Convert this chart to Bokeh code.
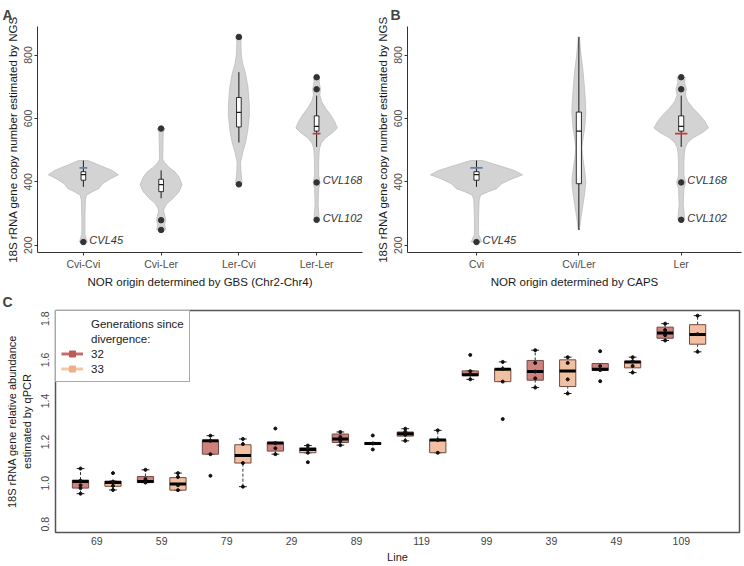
import numpy as np
from bokeh.plotting import figure
from bokeh.layouts import column, row
from bokeh.models import FixedTicker, Legend, LegendItem, Range1d, PrintfTickFormatter
from bokeh.core.properties import value
from bokeh.embed import file_html
from bokeh.resources import INLINE

FONT = "Liberation Sans"

# ---------------- Panels A / B data ----------------
gbs_labels = ["Cvi-Cvi", "Cvi-Ler", "Ler-Cvi", "Ler-Ler"]
caps_labels = ["Cvi", "Cvi/Ler", "Ler"]
ngs_ticks = [200, 400, 600, 800]

# violin density profiles: copy-number level and half width (category units)
cvi_cvi_lvl = [210, 219, 234, 286, 343, 358, 369, 379, 394, 410, 422, 436, 451, 467]
cvi_cvi_wid = [0.05, 0.04, 0.02, 0.02, 0.026, 0.04, 0.116, 0.2, 0.245, 0.35, 0.45, 0.37, 0.22, 0.06]
cvi_ler_lvl = [248, 265, 279, 291, 307, 317, 332, 348, 369, 391, 415, 431, 446, 462, 472, 555, 568]
cvi_ler_wid = [0.058, 0.045, 0.058, 0.05, 0.032, 0.04, 0.077, 0.155, 0.23, 0.27, 0.23, 0.18, 0.10, 0.04, 0.02, 0.026, 0.05]
ler_cvi_lvl = [392, 400, 431, 462, 493, 524, 565, 611, 648, 699, 741, 772, 803, 844, 857]
ler_cvi_wid = [0.04, 0.04, 0.026, 0.022, 0.05, 0.086, 0.116, 0.135, 0.133, 0.116, 0.086, 0.05, 0.03, 0.026, 0.04]
ler_ler_lvl = [280, 286, 327, 379, 398, 420, 462, 493, 508, 524, 539, 555, 570, 591, 611, 632, 653, 673, 692, 715, 730]
ler_ler_wid = [0.032, 0.032, 0.02, 0.026, 0.045, 0.026, 0.026, 0.032, 0.04, 0.064, 0.116, 0.206, 0.266, 0.23, 0.18, 0.116, 0.064, 0.04, 0.05, 0.032, 0.04]
cvi_mix_lvl = [248, 286, 327, 369, 400, 431, 472, 508, 534, 575, 620, 658, 699, 751, 803, 857]
cvi_mix_wid = [0.005, 0.02, 0.04, 0.059, 0.068, 0.059, 0.04, 0.03, 0.04, 0.059, 0.068, 0.063, 0.054, 0.04, 0.02, 0.005]

# box statistics
gbs_low = [384, 348, 524, 510]
gbs_q1 = [405, 369, 573, 560]
gbs_med = [423, 391, 619, 575]
gbs_q3 = [432, 408, 666, 608]
gbs_high = [467, 436, 746, 672]
gbs_out_grp = [1, 2, 2, 2, 3, 3, 4, 4, 4, 4]
gbs_out_val = [210, 568, 279, 248, 857, 392, 730, 692, 398, 280]

caps_low = [384, 248, 510]
caps_q1 = [405, 394, 560]
caps_med = [423, 560, 575]
caps_q3 = [432, 620, 608]
caps_high = [467, 857, 672]
caps_out_grp = [1, 3, 3, 3, 3]
caps_out_val = [210, 730, 692, 398, 280]

# reference (parental) marks
gbs_mark_grp = [1, 4]
caps_mark_grp = [1, 3]
mark_val = [444, 552]
mark_col = ["#5b80b4", "#c8383c"]

# named lines
gbs_lab_grp = [1, 4, 4]
caps_lab_grp = [1, 3, 3]
lab_val = [210, 398, 280]
lab_txt = ["CVL45", "CVL168", "CVL102"]

# ---------------- Panel C data ----------------
line_labels = ["69", "59", "79", "29", "89", "119", "99", "39", "49", "109"]
c_gen = ["32", "33"] * 10
c_low = [0.949, 0.967, 1.003, 0.966, 1.141, 0.983, 1.141, 1.148, 1.185, 1.188,
         1.206, 1.148, 1.505, 1.494, 1.465, 1.436, 1.548, 1.538, 1.694, 1.639]
c_q1 = [0.976, 0.985, 1.003, 0.966, 1.141, 1.098, 1.156, 1.148, 1.198, 1.188,
        1.229, 1.148, 1.523, 1.494, 1.501, 1.470, 1.548, 1.561, 1.705, 1.676]
c_med = [1.008, 1.003, 1.008, 0.996, 1.206, 1.135, 1.195, 1.164, 1.215, 1.193,
         1.240, 1.210, 1.527, 1.554, 1.543, 1.546, 1.554, 1.590, 1.730, 1.723]
c_q3 = [1.015, 1.010, 1.032, 1.027, 1.206, 1.187, 1.198, 1.172, 1.239, 1.198,
        1.249, 1.213, 1.546, 1.556, 1.597, 1.600, 1.582, 1.593, 1.759, 1.771]
c_high = [1.071, 1.010, 1.065, 1.049, 1.231, 1.215, 1.198, 1.183, 1.249, 1.198,
          1.265, 1.257, 1.546, 1.590, 1.647, 1.613, 1.582, 1.613, 1.776, 1.815]
c_points = [
    [0.949, 0.976, 0.990, 1.012, 1.071], [0.967, 0.987, 1.003, 1.008, 1.049],
    [1.003, 1.005, 1.020, 1.065], [0.966, 0.990, 1.030, 1.049],
    [1.036, 1.141, 1.206, 1.231], [0.983, 1.098, 1.190, 1.215],
    [1.141, 1.170, 1.195, 1.266], [1.102, 1.148, 1.168, 1.183],
    [1.185, 1.205, 1.225, 1.249], [1.164, 1.193, 1.232],
    [1.206, 1.235, 1.250, 1.265], [1.148, 1.210, 1.257],
    [1.505, 1.530, 1.545, 1.624], [1.312, 1.494, 1.556, 1.590],
    [1.465, 1.510, 1.543, 1.585, 1.647], [1.436, 1.505, 1.585, 1.613],
    [1.496, 1.550, 1.570, 1.642], [1.538, 1.570, 1.593, 1.613],
    [1.694, 1.720, 1.745, 1.776], [1.639, 1.725, 1.815],
]
qpcr_ticks = [0.8, 1.0, 1.2, 1.4, 1.6, 1.8]
gen_fill = {"32": "#d0817d", "33": "#f2bfa0"}
gen_line = {"32": "#c96c69", "33": "#f4c6a8"}
gen_mark = {"32": "#bb5a57", "33": "#eeae88"}


def style_axes(p, tick_color="#4d4d4d"):
    for ax in (p.xaxis[0], p.yaxis[0]):
        ax.axis_line_color = "#333333"
        ax.axis_line_width = 1
        ax.major_tick_line_color = "#333333"
        ax.major_tick_out = 3
        ax.major_tick_in = 0
        ax.minor_tick_line_color = None
        ax.major_label_text_font = FONT
        ax.major_label_text_font_size = "10.5px"
        ax.major_label_text_color = tick_color
        ax.major_label_standoff = 2
        ax.axis_label_text_font = FONT
        ax.axis_label_text_font_size = "11.5px"
        ax.axis_label_text_font_style = "normal"
        ax.axis_label_text_color = "#1a1a1a"
        ax.axis_label_standoff = 3
    p.xgrid.visible = False
    p.ygrid.visible = False


def violin_panel(letter, letter_off, cats, xr, profiles, low, q1, med, q3, high,
                 out_grp, out_val, mark_grp, lab_grp, xlabel, width, borders,
                 box_half, mark_half):
    bl, br, bt, bb = borders
    p = figure(width=width, height=290, x_range=Range1d(*xr), y_range=Range1d(177, 890),
               output_backend="svg", toolbar_location=None,
               min_border_left=bl, min_border_right=br, min_border_top=bt, min_border_bottom=bb)
    p.outline_line_color = None
    p.title.text = letter
    p.title.text_font = FONT
    p.title.text_font_size = "14px"
    p.title.text_font_style = "bold"
    p.title.align = "left"
    p.title.offset = letter_off
    p.title.standoff = 8
    style_axes(p)
    pos = list(range(1, len(cats) + 1))
    xs, ys = [], []
    for c, (lv, wd) in zip(pos, profiles):
        lv = np.array(lv, float); wd = np.array(wd, float)
        o = np.argsort(lv)
        lv, wd = lv[o], wd[o]
        xs.append(list(np.concatenate([c - wd, (c + wd)[::-1]])))
        ys.append(list(np.concatenate([lv, lv[::-1]])))
    p.patches(xs, ys, fill_color="#d3d3d3", line_color="#bdbdbd", line_width=0.8)
    p.segment(x0=pos, y0=low, x1=pos, y1=q1, line_color="#1a1a1a", line_width=1)
    p.segment(x0=pos, y0=q3, x1=pos, y1=high, line_color="#1a1a1a", line_width=1)
    p.quad(left=[c - box_half for c in pos], right=[c + box_half for c in pos],
           bottom=q1, top=q3, fill_color="white", line_color="#1a1a1a", line_width=0.9)
    p.segment(x0=[c - box_half for c in pos], x1=[c + box_half for c in pos], y0=med, y1=med,
              line_color="#1a1a1a", line_width=1.2)
    p.segment(x0=[g - mark_half for g in mark_grp], x1=[g + mark_half for g in mark_grp],
              y0=mark_val, y1=mark_val, line_color=mark_col, line_width=1.6)
    p.scatter(out_grp, out_val, size=5.5, color="#333333")
    p.text(lab_grp, lab_val, text=lab_txt, x_offset=6, y_offset=-2,
           text_font=value(FONT), text_font_style="italic", text_font_size="11px",
           text_baseline="middle", text_align="left", text_color="#333333")
    p.xaxis.ticker = FixedTicker(ticks=pos)
    p.xaxis.major_label_overrides = {c: lab for c, lab in zip(pos, cats)}
    p.yaxis.ticker = FixedTicker(ticks=ngs_ticks)
    p.yaxis.major_label_orientation = "vertical"
    p.xaxis.axis_label = xlabel
    p.yaxis.axis_label = "18S rRNA gene copy number estimated by NGS"
    return p


pA = violin_panel("A", -35, gbs_labels, (0.41, 4.59),
                  [(cvi_cvi_lvl, cvi_cvi_wid), (cvi_ler_lvl, cvi_ler_wid),
                   (ler_cvi_lvl, ler_cvi_wid), (ler_ler_lvl, ler_ler_wid)],
                  gbs_low, gbs_q1, gbs_med, gbs_q3, gbs_high, gbs_out_grp, gbs_out_val,
                  gbs_mark_grp, gbs_lab_grp, "NOR origin determined by GBS (Chr2-Chr4)",
                  370, (37, 8, 25, 35), 0.03, 0.05)
pB = violin_panel("B", -17, caps_labels, (0.326, 3.589),
                  [(cvi_cvi_lvl, cvi_cvi_wid), (cvi_mix_lvl, cvi_mix_wid), (ler_ler_lvl, ler_ler_wid)],
                  caps_low, caps_q1, caps_med, caps_q3, caps_high, caps_out_grp, caps_out_val,
                  caps_mark_grp, caps_lab_grp, "NOR origin determined by CAPS",
                  374, (37, 3, 25, 35), 0.025, 0.06)

# ---------------- Panel C ----------------
pC = figure(width=744, height=276, x_range=Range1d(0.23, 21.29), y_range=Range1d(0.76, 1.84),
            output_backend="svg", toolbar_location=None,
            min_border_left=55, min_border_right=5, min_border_top=20, min_border_bottom=34)
pC.title.text = "C"
pC.title.text_font = FONT
pC.title.text_font_size = "14px"
pC.title.text_font_style = "bold"
pC.title.align = "left"
pC.title.offset = -53
pC.title.standoff = 2
style_axes(pC, tick_color="#444444")
for ax in (pC.xaxis[0], pC.yaxis[0]):
    ax.axis_line_color = None
    ax.major_tick_line_color = None
    ax.major_tick_out = 0
    ax.axis_label_text_color = "#1a1a1a"
    ax.axis_label_text_font_size = "11px"
pC.xaxis.major_label_standoff = 4
pC.yaxis.major_label_standoff = 6
pC.outline_line_color = "#555555"
pC.outline_line_width = 1.5

pos = list(range(1, 21))
hw = 0.25
cw = 0.12
pC.segment(x0=pos, x1=pos, y0=c_low, y1=c_q1, line_color="#333333", line_dash="3 2", line_width=1)
pC.segment(x0=pos, x1=pos, y0=c_q3, y1=c_high, line_color="#333333", line_dash="3 2", line_width=1)
pC.segment(x0=[c - cw for c in pos], x1=[c + cw for c in pos], y0=c_low, y1=c_low,
           line_color="#222222", line_width=1)
pC.segment(x0=[c - cw for c in pos], x1=[c + cw for c in pos], y0=c_high, y1=c_high,
           line_color="#222222", line_width=1)
pC.quad(left=[c - hw for c in pos], right=[c + hw for c in pos], bottom=c_q1, top=c_q3,
        fill_color=[gen_fill[g] for g in c_gen], line_color="#6e4a44", line_width=1)
pC.segment(x0=[c - hw for c in pos], x1=[c + hw for c in pos], y0=c_med, y1=c_med,
           line_color="black", line_width=3)
px, py = [], []
for c, pts in zip(pos, c_points):
    px += [c] * len(pts)
    py += pts
pC.scatter(px, py, size=3, color="#111111")

pC.xaxis.ticker = FixedTicker(ticks=[2 * i + 1.5 for i in range(len(line_labels))])
pC.xaxis.major_label_overrides = {2 * i + 1.5: lab for i, lab in enumerate(line_labels)}
pC.xaxis.axis_label = "Line"
pC.xaxis.axis_label_standoff = 3
pC.yaxis.ticker = FixedTicker(ticks=qpcr_ticks)
pC.yaxis.formatter = PrintfTickFormatter(format="%.1f")
pC.yaxis.major_label_orientation = "vertical"
pC.yaxis.axis_label = "18S rRNA gene relative abundance\nestimated by qPCR"
pC.yaxis.axis_label_standoff = 6

# legend (sample glyphs kept outside the visible range; only the legend shows them)
hdr1 = pC.scatter([-10], [0], alpha=0)
hdr2 = pC.scatter([-10], [0], alpha=0)
l32 = pC.line([-10, -9], [0, 0], line_color=gen_line["32"], line_width=3)
m32 = pC.scatter([-10], [0], marker="square", size=6, color=gen_mark["32"])
l33 = pC.line([-10, -9], [0, 0], line_color=gen_line["33"], line_width=3)
m33 = pC.scatter([-10], [0], marker="square", size=6, color=gen_mark["33"])
leg = Legend(items=[LegendItem(label="Generations since", renderers=[hdr1]),
                    LegendItem(label="divergence:", renderers=[hdr2]),
                    LegendItem(label="32", renderers=[l32, m32]),
                    LegendItem(label="33", renderers=[l33, m33])],
             location="top_left", margin=0, padding=5, spacing=0,
             glyph_width=22, glyph_height=15, label_height=15, label_standoff=8,
             label_text_font=FONT, label_text_font_size="11.5px", label_text_color="#1a1a1a",
             border_line_color="#555555", border_line_width=1.5,
             background_fill_color="white", background_fill_alpha=1)
pC.add_layout(leg)

layout = column(row(pA, pB), pC)
open("out.html", "w").write(file_html(layout, INLINE))
